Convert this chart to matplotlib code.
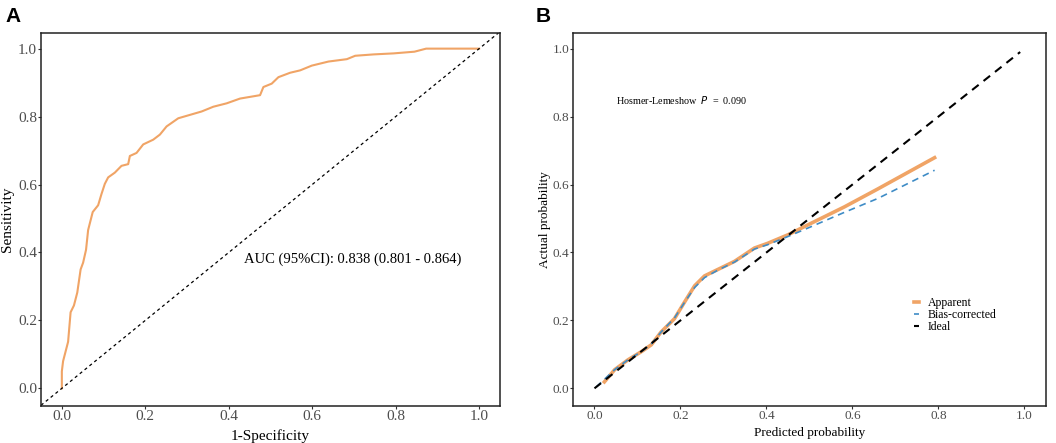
import matplotlib.pyplot as plt
import numpy as np

# ROC curve (panel A)
roc_fpr = [0.0, 0.0, 0.003, 0.015, 0.021, 0.029, 0.037, 0.045, 0.051, 0.058,
           0.063, 0.074, 0.087, 0.095, 0.103, 0.111, 0.127, 0.143, 0.159, 0.163,
           0.179, 0.195, 0.219, 0.235, 0.251, 0.279, 0.307, 0.335, 0.363, 0.395,
           0.427, 0.475, 0.483, 0.503, 0.519, 0.547, 0.571, 0.599, 0.639, 0.683,
           0.703, 0.747, 0.795, 0.845, 0.873, 1.0]
roc_tpr = [0.0, 0.05, 0.08, 0.137, 0.224, 0.244, 0.282, 0.35, 0.37, 0.408,
           0.466, 0.519, 0.539, 0.572, 0.602, 0.621, 0.635, 0.655, 0.66, 0.684,
           0.693, 0.718, 0.732, 0.747, 0.771, 0.795, 0.805, 0.815, 0.829, 0.839,
           0.853, 0.863, 0.887, 0.897, 0.916, 0.929, 0.936, 0.950, 0.962, 0.969,
           0.979, 0.983, 0.986, 0.991, 1.0, 1.0]
auc_text = "AUC (95%CI): 0.838 (0.801 - 0.864)"

# calibration curves (panel B)
app_x = [0.023, 0.047, 0.078, 0.109, 0.132, 0.155, 0.186, 0.209, 0.233, 0.256,
         0.287, 0.326, 0.372, 0.403, 0.450, 0.504, 0.581, 0.659, 0.791]
app_y = [0.019, 0.055, 0.084, 0.108, 0.128, 0.166, 0.205, 0.253, 0.302, 0.331,
         0.350, 0.374, 0.413, 0.427, 0.452, 0.486, 0.534, 0.587, 0.679]
bias_x = [0.004, 0.047, 0.078, 0.109, 0.132, 0.155, 0.186, 0.209, 0.233, 0.256,
          0.287, 0.326, 0.372, 0.403, 0.450, 0.504, 0.581, 0.659, 0.791]
bias_y = [0.004, 0.055, 0.084, 0.108, 0.130, 0.166, 0.207, 0.252, 0.297, 0.326,
          0.348, 0.372, 0.410, 0.423, 0.447, 0.476, 0.518, 0.559, 0.642]
ideal_x = [0.0, 0.99]
ideal_y = [0.0, 0.99]
hl_p = "0.090"

ticks = [0.0, 0.2, 0.4, 0.6, 0.8, 1.0]
tick_labels = ["0.0", "0.2", "0.4", "0.6", "0.8", "1.0"]

ORANGE = "#F0A466"
BLUE = "#3F8CC6"
SERIF = ["Liberation Serif", "DejaVu Serif"]

plt.rcParams["font.family"] = SERIF

fig = plt.figure(figsize=(10.56, 4.43), dpi=100)
ax_a = fig.add_axes([0.0388, 0.0835, 0.4347, 0.842])
ax_b = fig.add_axes([0.5426, 0.0835, 0.4479, 0.842])


def style_axes(ax, xlabel, ylabel, fs, ylab_x, xlab_y):
    ax.set_xlim(-0.05, 1.05)
    ax.set_ylim(-0.052, 1.046)
    ax.set_xticks(ticks)
    ax.set_xticklabels(tick_labels)
    ax.set_yticks(ticks)
    ax.set_yticklabels(tick_labels)
    ax.tick_params(direction="out", length=2.5, width=0.8, colors="#333333",
                   labelcolor="#4D4D4D", labelsize=fs, pad=0.3)
    for s in ax.spines.values():
        s.set_color("#222222")
        s.set_linewidth(1.1)
    ax.set_xlabel(xlabel, fontsize=fs, va="center")
    ax.set_ylabel(ylabel, fontsize=fs, va="center")
    ax.xaxis.set_label_coords(0.5, xlab_y)
    ax.yaxis.set_label_coords(ylab_x, 0.5)


# A: ROC
ax_a.plot(roc_fpr, roc_tpr, color=ORANGE, lw=1.5)
ax_a.axline((0, 0), slope=1, color="black", lw=0.9, ls=(0, (2.5, 2.5)))
ax_a.text(0.437, 0.38, auc_text, fontsize=10.5, va="center", ha="left")
style_axes(ax_a, "1-Specificity", "Sensitivity", 11, -0.074, -0.082)

# B: calibration
ax_b.plot(app_x, app_y, color=ORANGE, lw=2.6, label="Apparent")
ax_b.plot(bias_x, bias_y, color=BLUE, lw=1.2, ls=(0, (4, 3)), label="Bias-corrected")
ax_b.plot(ideal_x, ideal_y, color="black", lw=1.5, ls=(0, (4, 3)), label="Ideal")
ax_b.text(0.049, 0.85, "Hosmer-Lemeshow  $\\mathit{P}$  =  " + hl_p,
          fontsize=7.3, va="center", ha="left", family=SERIF)
style_axes(ax_b, "Predicted probability", "Actual probability", 9.5, -0.06, -0.072)
ax_b.legend(loc="upper left", bbox_to_anchor=(0.722, 0.293), frameon=False,
            fontsize=8.5, handlelength=0.4, handletextpad=0.7, labelspacing=0.0,
            borderpad=0, borderaxespad=0)

fig.text(0.005, 0.985, "A", fontsize=15, fontweight="bold", va="top",
         family=["Liberation Sans", "DejaVu Sans"])
fig.text(0.507, 0.985, "B", fontsize=15, fontweight="bold", va="top",
         family=["Liberation Sans", "DejaVu Sans"])

fig.savefig("out.png", dpi=100)
